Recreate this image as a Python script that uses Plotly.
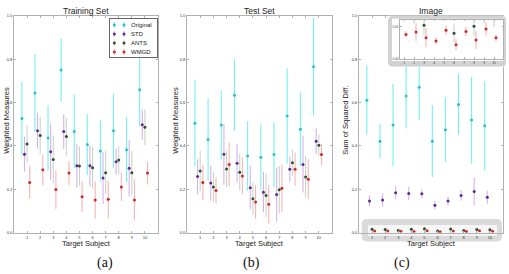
import numpy as np
import plotly.graph_objects as go

W, H = 509, 274

subjects = list(range(1, 11))
subject_labels = [str(s) for s in subjects]
series_names = ["Original", "STD", "ANTS", "WMGD"]
y_ticks = [0.0, 0.2, 0.4, 0.6, 0.8, 1.0]
y_tick_labels = ["0.0", "0.2", "0.4", "0.6", "0.8", "1.0"]
inset_ticks = [0.0, 0.01]
inset_tick_labels = ["0.00", "0.01"]
panel_titles = ["Training Set", "Test Set", "Image"]
panel_ylabels = ["Weighted Measures", "Weighted Measures", "Sum of Squared Diff."]
panel_tags = ["(a)", "(b)", "(c)"]

# ---- Training set ----
train_orig = [0.526, 0.644, 0.437, 0.750, 0.467, 0.407, 0.377, 0.470, 0.383, 0.659]
train_orig_err = [0.17, 0.18, 0.15, 0.145, 0.17, 0.14, 0.14, 0.17, 0.15, 0.17]
train_std = [0.362, 0.470, 0.373, 0.466, 0.309, 0.309, 0.252, 0.327, 0.297, 0.498]
train_std_err = [0.08, 0.083, 0.13, 0.08, 0.10, 0.095, 0.12, 0.06, 0.13, 0.07]
train_ants = [0.409, 0.448, 0.338, 0.443, 0.308, 0.300, 0.277, 0.335, 0.277, 0.486]
train_ants_err = [0.085, 0.085, 0.11, 0.087, 0.09, 0.095, 0.10, 0.065, 0.10, 0.083]
train_wmgd = [0.232, 0.290, 0.199, 0.275, 0.166, 0.151, 0.154, 0.211, 0.151, 0.275]
train_wmgd_err = [0.075, 0.07, 0.09, 0.055, 0.07, 0.085, 0.087, 0.065, 0.095, 0.053]

# ---- Test set ----
test_orig = [0.505, 0.430, 0.496, 0.634, 0.354, 0.348, 0.360, 0.538, 0.477, 0.765]
test_orig_err = [0.20, 0.19, 0.16, 0.165, 0.16, 0.15, 0.15, 0.22, 0.17, 0.225]
test_std = [0.259, 0.229, 0.362, 0.320, 0.207, 0.187, 0.176, 0.293, 0.315, 0.422]
test_std_err = [0.08, 0.08, 0.14, 0.09, 0.10, 0.093, 0.125, 0.058, 0.13, 0.06]
test_ants = [0.285, 0.211, 0.294, 0.279, 0.157, 0.172, 0.198, 0.323, 0.257, 0.403]
test_ants_err = [0.093, 0.07, 0.083, 0.085, 0.075, 0.10, 0.11, 0.06, 0.095, 0.05]
test_wmgd = [0.232, 0.195, 0.315, 0.262, 0.142, 0.131, 0.205, 0.293, 0.247, 0.360]
test_wmgd_err = [0.08, 0.06, 0.10, 0.085, 0.077, 0.09, 0.11, 0.077, 0.093, 0.05]

# ---- Image (sum of squared diff.) ----
img_orig = [0.611, 0.422, 0.496, 0.630, 0.670, 0.422, 0.475, 0.591, 0.519, 0.493]
img_orig_err = [0.16, 0.08, 0.19, 0.15, 0.15, 0.165, 0.15, 0.14, 0.20, 0.205]
img_std = [0.146, 0.151, 0.184, 0.181, 0.180, 0.127, 0.146, 0.172, 0.190, 0.164]
img_std_err = [0.025, 0.03, 0.03, 0.03, 0.02, 0.018, 0.02, 0.025, 0.065, 0.03]
img_ants = [0.016, 0.015, 0.0105, 0.016, 0.018, 0.008, 0.017, 0.0102, 0.015, 0.014]
img_ants_err = [0.004, 0.004, 0.003, 0.004, 0.004, 0.003, 0.004, 0.003, 0.004, 0.004]
img_wmgd = [0.0076, 0.0084, 0.0066, 0.0056, 0.0089, 0.0044, 0.0085, 0.0059, 0.0093, 0.0066]
img_wmgd_err = [0.001, 0.0028, 0.003, 0.001, 0.0015, 0.0018, 0.0015, 0.0028, 0.002, 0.001]

panels = [
    [(train_orig, train_orig_err), (train_std, train_std_err), (train_ants, train_ants_err), (train_wmgd, train_wmgd_err)],
    [(test_orig, test_orig_err), (test_std, test_std_err), (test_ants, test_ants_err), (test_wmgd, test_wmgd_err)],
    [(img_orig, img_orig_err), (img_std, img_std_err), (img_ants, img_ants_err), (img_wmgd, img_wmgd_err)],
]

offsets = [-0.4, -0.2, 0.0, 0.2]
marker_colors = ["rgb(40,195,195)", "rgb(95,40,145)", "rgb(45,80,45)", "rgb(205,40,40)"]
bar_colors = ["rgba(0,228,228,0.55)", "rgba(165,85,215,0.45)", "rgba(120,150,120,0.4)", "rgba(235,90,90,0.45)"]

FONT = "Liberation Sans"
AX_LINE = "#b0b0b0"


def xd(a, b):
    return [a / W, b / W]


def yd(top, bottom):
    return [1 - bottom / H, 1 - top / H]


def rounded(x0, x1, y0, y1, rx, ry, n=8):
    pts_x, pts_y = [], []
    corners = [(x1 - rx, y1 - ry, 0), (x0 + rx, y1 - ry, 90), (x0 + rx, y0 + ry, 180), (x1 - rx, y0 + ry, 270)]
    for cx, cy, a0 in corners:
        for t in np.linspace(np.radians(a0), np.radians(a0 + 90), n):
            pts_x.append(cx + rx * np.cos(t))
            pts_y.append(cy + ry * np.sin(t))
    pts_x.append(pts_x[0])
    pts_y.append(pts_y[0])
    return pts_x, pts_y


fig = go.Figure()

main_x_domains = [xd(14, 158), xd(187, 332), xd(359, 503)]
main_y_domain = yd(13, 234)

# main panels
for p in range(3):
    xa = "x" if p == 0 else f"x{p + 1}"
    ya = "y" if p == 0 else f"y{p + 1}"
    for s in range(4):
        vals, errs = panels[p][s]
        fig.add_trace(go.Scatter(
            x=[i + offsets[s] for i in subjects], y=vals,
            mode="markers", name=series_names[s], showlegend=False,
            marker=dict(color=marker_colors[s], size=3),
            error_y=dict(type="data", array=errs, color=bar_colors[s], thickness=1.1, width=0),
            xaxis=xa, yaxis=ya, cliponaxis=True,
        ))

# inset frame subplot (x4/y4)
fx, fy = rounded(0, 1, 0, 1, 0.035, 0.08)
fig.add_trace(go.Scatter(x=fx, y=fy, fill="toself", fillcolor="#d2d2d2", mode="lines",
                         line=dict(width=0), hoverinfo="skip", showlegend=False, xaxis="x4", yaxis="y4"))
ix0, ix1, iy0, iy1 = 0.034, 0.975, 0.115, 0.94
fig.add_trace(go.Scatter(x=[ix0, ix1, ix1, ix0, ix0], y=[iy0, iy0, iy1, iy1, iy0], fill="toself",
                         fillcolor="white", mode="lines", line=dict(width=0), hoverinfo="skip",
                         showlegend=False, xaxis="x4", yaxis="y4"))

# inset data (x5/y5)
for s in (2, 3):
    vals, errs = panels[2][s]
    fig.add_trace(go.Scatter(
        x=[i + offsets[s] for i in subjects], y=vals, mode="markers", showlegend=False,
        marker=dict(color=marker_colors[s], size=3),
        error_y=dict(type="data", array=errs, color=bar_colors[s], thickness=1.1, width=0),
        xaxis="x5", yaxis="y5", cliponaxis=True,
    ))

# manual legend (x6/y6), pixel units
LW, LH = 47, 39
fig.add_trace(go.Scatter(x=[0, LW, LW, 0, 0], y=[0, 0, LH, LH, 0], fill="toself", fillcolor="white",
                         mode="lines", line=dict(width=0), hoverinfo="skip", showlegend=False,
                         xaxis="x6", yaxis="y6"))
for s in range(4):
    yy = LH - 6.3 - 9.2 * s
    fig.add_trace(go.Scatter(
        x=[4.3, 14.0], y=[yy, yy], mode="markers", showlegend=False,
        marker=dict(color=marker_colors[s], size=3),
        error_y=dict(type="constant", value=3.2, color=bar_colors[s], thickness=1.1, width=0),
        xaxis="x6", yaxis="y6", hoverinfo="skip",
    ))

axis_common = dict(showline=True, linecolor=AX_LINE, linewidth=1, mirror="allticks", ticks="inside",
                   ticklen=2, tickcolor=AX_LINE, showgrid=False, zeroline=False,
                   tickfont=dict(family=FONT, size=4, color="#333"))

layout = dict(
    width=W, height=H, margin=dict(l=0, r=0, t=0, b=0),
    paper_bgcolor="white", plot_bgcolor="white", showlegend=False,
)
for p in range(3):
    xk = "xaxis" if p == 0 else f"xaxis{p + 1}"
    yk = "yaxis" if p == 0 else f"yaxis{p + 1}"
    xa = "x" if p == 0 else f"x{p + 1}"
    ya = "y" if p == 0 else f"y{p + 1}"
    layout[xk] = dict(domain=main_x_domains[p], anchor=ya, range=[0, 11], tickvals=subjects,
                      ticktext=subject_labels, **axis_common)
    layout[yk] = dict(domain=main_y_domain, anchor=xa, range=[0, 1], tickvals=y_ticks,
                      ticktext=y_tick_labels, **axis_common)

hidden = dict(visible=False, showgrid=False, zeroline=False, fixedrange=True)
layout["xaxis4"] = dict(domain=xd(388, 506), anchor="y4", range=[0, 1], **hidden)
layout["yaxis4"] = dict(domain=yd(13, 65), anchor="x4", range=[0, 1], **hidden)
inset_common = dict(axis_common)
inset_common["tickfont"] = dict(family=FONT, size=3, color="#333")
inset_common["ticklen"] = 1.5
layout["xaxis5"] = dict(domain=xd(400, 503), anchor="y5", range=[0.6, 10.9], tickvals=subjects,
                        ticktext=subject_labels, **inset_common)
layout["yaxis5"] = dict(domain=yd(17, 57), anchor="x5", range=[0, 0.0122], tickvals=inset_ticks,
                        ticktext=inset_tick_labels, **inset_common)
layout["xaxis6"] = dict(domain=xd(110, 157), anchor="y6", range=[0, LW], visible=True, showline=True,
                        mirror=True, linecolor="#666", linewidth=0.8, showticklabels=False, ticks="",
                        showgrid=False, zeroline=False)
layout["yaxis6"] = dict(domain=yd(16, 55), anchor="x6", range=[0, LH], visible=True, showline=True,
                        mirror=True, linecolor="#666", linewidth=0.8, showticklabels=False, ticks="",
                        showgrid=False, zeroline=False)

fig.update_layout(**layout)

# bottom highlight box in panel (c), behind the plot content
bx, by = rounded(361.7 / W, 502 / W, 1 - 243 / H, 1 - 220 / H, 5 / W, 5 / H)
path = "M " + " L ".join(f"{a:.5f},{b:.5f}" for a, b in zip(bx, by)) + " Z"
fig.add_shape(type="path", path=path, xref="paper", yref="paper", layer="below",
              fillcolor="#dadada", line=dict(width=0))
fig.add_shape(type="rect", xref="paper", yref="paper", layer="below",
              x0=368 / W, x1=497 / W, y0=1 - 237 / H, y1=1 - 226 / H,
              fillcolor="#f6f6f6", line=dict(width=0))

annotations = []
centers = [86, 259.5, 431]
ylab_x = [7, 176, 346]
tag_x = [105, 251, 402]
for p in range(3):
    annotations.append(dict(text=panel_titles[p], x=centers[p] / W, y=1 - 8.5 / H, xref="paper", yref="paper",
                            showarrow=False, font=dict(family=FONT, size=8.5, color="#222"),
                            xanchor="center", yanchor="middle"))
    annotations.append(dict(text="Target Subject", x=centers[p] / W, y=1 - 244.5 / H, xref="paper",
                            yref="paper", showarrow=False, font=dict(family=FONT, size=7.5, color="#222"),
                            xanchor="center", yanchor="middle"))
    annotations.append(dict(text=panel_ylabels[p], x=ylab_x[p] / W, y=1 - 120 / H, xref="paper",
                            yref="paper", showarrow=False, textangle=-90,
                            font=dict(family=FONT, size=7.5, color="#222"),
                            xanchor="center", yanchor="middle"))
    annotations.append(dict(text=panel_tags[p], x=tag_x[p] / W, y=1 - 265 / H, xref="paper", yref="paper",
                            showarrow=False, font=dict(family="Liberation Serif", size=14, color="#111"),
                            xanchor="center", yanchor="middle"))
for s in range(4):
    yy = LH - 6.3 - 9.2 * s
    annotations.append(dict(text=series_names[s], x=19.3, y=yy, xref="x6", yref="y6", showarrow=False,
                            xanchor="left", yanchor="middle",
                            font=dict(family=FONT, size=6, color="#222")))
fig.update_layout(annotations=annotations)

fig.write_html("out.html")
